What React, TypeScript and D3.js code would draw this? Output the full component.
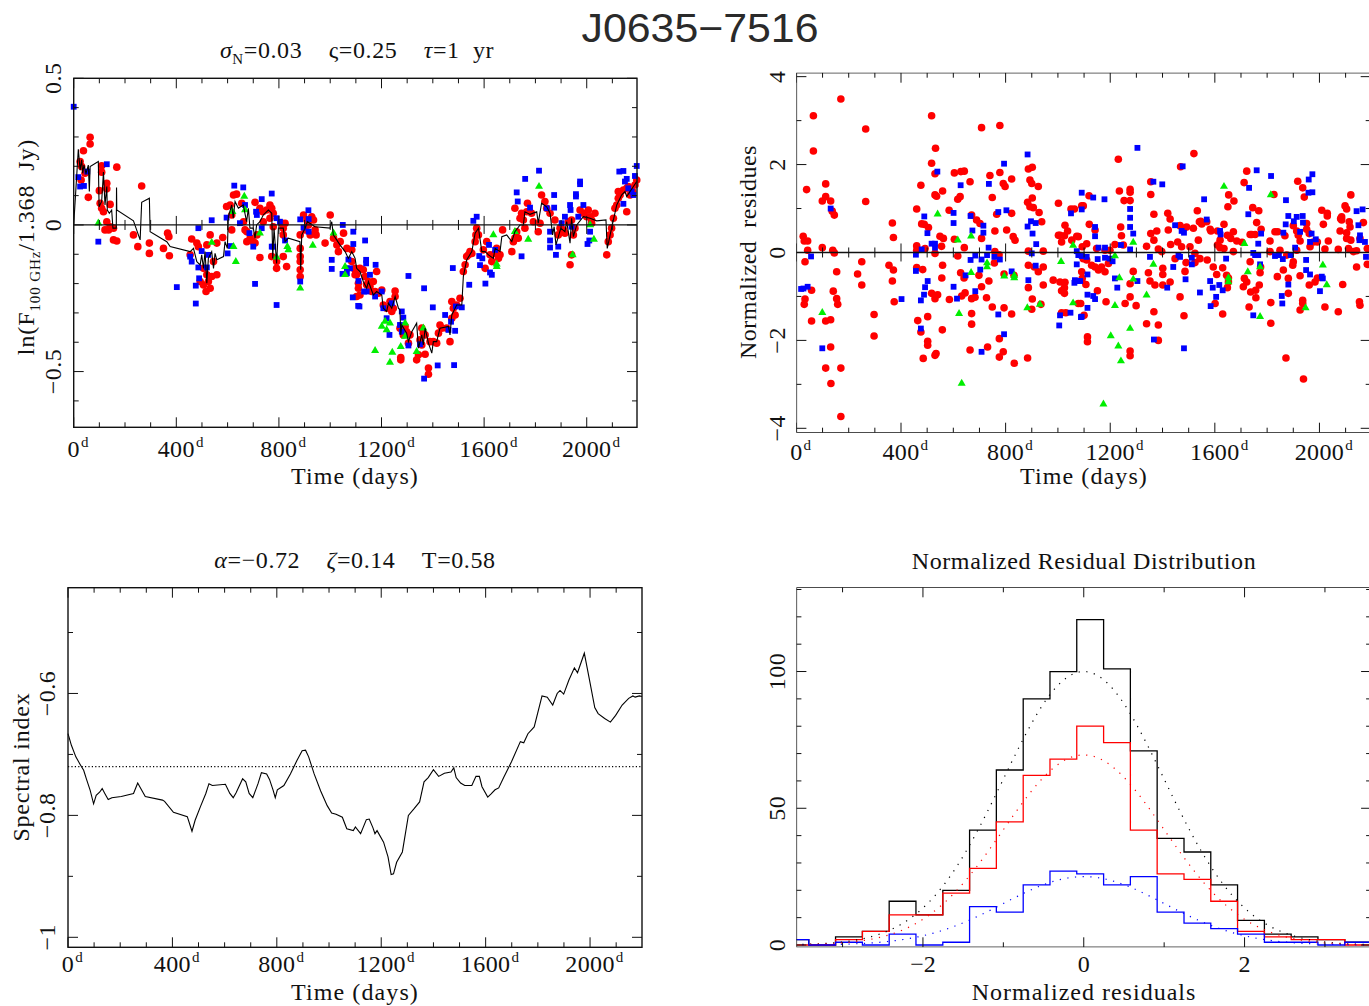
import React from 'react';
import * as d3 from 'd3';

// ---------- Light curve at 100 GHz (day, ln flux ratio) ----------
const fluxRed: [number, number][] = [
  [25,0.216],[31,0.199],[44,0.176],[38,0.253],[29,0.153],[64,0.299],[64,0.276],[57,0.094],[109,0.202],[109,0.18],
  [129,0.142],[129,0.123],[100,0.117],[103,0.074],[109,0.057],[116,0.045],[142,0.07],[168,0.197],[265,0.133],[129,0.011],
  [142,-0.006],[136,-0.017],[122,-0.017],[155,-0.011],[155,-0.051],[168,-0.055],[233,-0.034],[250,-0.074],[295,-0.062],[295,-0.097],
  [350,-0.08],[366,-0.028],[371,-0.04],[373,-0.105],[460,-0.048],[454,-0.102],[480,-0.062],[506,-0.148],[519,-0.17],[506,-0.205],
  [516,-0.227],[532,-0.216],[525,-0.193],[538,-0.176],[558,-0.17],[532,-0.034],[558,-0.062],[581,-0.043],[545,-0.125],[519,-0.068],
  [486,-0.074],[493,-0.193],[596,0.063],[610,0.068],[623,0.102],[635,0.105],[616,0.034],[616,-0.017],[668,-0.017],[655,0.074],
  [662,0.011],[688,-0.045],[700,-0.057],[707,0.077],[726,0.057],[737,0.045],[739,0.011],[752,0.051],[765,0.068],[772,0.057],
  [778,0.04],[765,0.023],[778,-0.006],[811,0.006],[817,-0.011],[817,-0.034],[824,0.006],[791,-0.125],[791,-0.148],[830,-0.142],
  [772,-0.108],[817,-0.108],[726,-0.111],[675,-0.023],[675,-0.057],[714,-0.034],[707,-0.062],[883,-0.08],[883,-0.108],[883,-0.125],
  [883,-0.153],[883,-0.176],[883,-0.034],[896,0.034],[909,0.017],[915,0.0],[928,0.028],[935,0.017],[941,-0.017],[945,-0.034],
  [922,-0.034],[902,-0.017],[980,-0.062],[1000,0.034],[1013,-0.045],[1026,-0.068],[1032,-0.091],[1039,-0.057],[1052,-0.028],[1065,-0.08],
  [1097,-0.148],[1097,-0.17],[1110,-0.199],[1103,-0.244],
  [1084,-0.085],[1084,-0.125],[1097,-0.153],[1103,-0.17],[1116,-0.148],[1129,-0.153],[1136,-0.176],[1142,-0.204],[1149,-0.193],[1155,-0.21],
  [1168,-0.193],[1181,-0.159],[1162,-0.227],[1175,-0.227],[1188,-0.233],[1201,-0.222],[1110,-0.216],[1116,-0.239],[1207,-0.273],[1220,-0.284],
  [1233,-0.261],[1246,-0.284],[1253,-0.225],[1253,-0.244],[1240,-0.295],[1272,-0.352],[1292,-0.346],[1285,-0.375],[1298,-0.364],[1305,-0.403],
  [1311,-0.375],[1275,-0.452],[1275,-0.46],[1350,-0.392],[1357,-0.352],[1363,-0.369],[1370,-0.375],[1357,-0.409],[1370,-0.441],[1383,-0.488],
  [1383,-0.509],[1337,-0.46],[1344,-0.443],[1389,-0.398],[1402,-0.398],[1415,-0.403],[1422,-0.369],[1428,-0.341],[1435,-0.352],[1454,-0.352],
  [1467,-0.398],[1474,-0.261],[1480,-0.284],[1487,-0.307],[1474,-0.318],[1506,-0.25],[1493,-0.273],[1519,-0.159],[1526,-0.136],[1532,-0.108],
  [1539,-0.102],[1545,-0.091],[1552,-0.097],[1565,-0.057],[1568,-0.034],[1571,-0.011],[1578,-0.034],[1597,-0.085],[1610,-0.057],[1623,-0.102],
  [1630,-0.125],[1643,-0.097],[1649,-0.08],[1656,-0.114],[1662,-0.102],[1604,-0.148],[1672,-0.017],[1708,-0.091],[1714,-0.057],[1720,-0.045],
  [1727,-0.023],[1733,-0.045],[1720,0.057],[1740,0.023],[1746,0.04],[1753,0.017],[1759,-0.011],[1766,0.045],[1769,0.074],[1785,0.04],
  [1792,0.011],[1811,-0.023],[1818,0.006],[1824,0.102],[1837,0.08],[1844,0.057],[1857,0.04],[1876,0.017],[1889,-0.034],[1896,-0.011],
  [1909,-0.017],[1915,-0.028],[1928,0.011],[1941,0.017],[1948,-0.034],[1954,-0.011],[1935,-0.136],[1941,-0.102],[1974,0.051],[1987,0.04],
  [2000,0.028],[2006,0.051],[2013,0.028],[2019,0.017],[2032,0.04],[2019,0.006],[2078,-0.102],[2084,-0.057],[2091,-0.034],[2097,-0.011],
  [2104,0.023],[2110,0.057],[2117,0.068],[2123,0.091],[2123,0.114],[2130,0.102],[2143,0.119],[2156,0.125],[2162,0.131],[2156,0.045],
  [2169,0.102],[2179,0.114],[2188,0.136],[2195,0.153],
];

const fluxBlue: [number, number][] = [
  [0,0.403],[18,0.163],[25,0.131],[40,0.133],[53,0.182],[129,0.207],[96,-0.057],[486,-0.011],[538,0.016],[454,-0.108],
  [460,-0.125],[486,-0.145],[499,-0.089],[519,-0.145],[525,-0.102],[489,-0.182],[402,-0.212],[476,-0.207],[476,-0.268],[600,-0.097],
  [613,-0.072],[596,0.025],[626,0.134],[661,0.128],[668,0.068],[648,0.006],[685,-0.028],[700,-0.074],[711,0.045],[733,0.088],
  [772,0.107],[733,-0.011],[714,0.034],[791,0.023],[804,0.011],[772,-0.074],[778,-0.074],[707,-0.201],[791,-0.273],[824,-0.053],
  [883,0.019],[896,-0.009],[915,0.05],[916,0.02],[916,-0.023],[883,-0.193],[1049,0.0],[1090,-0.023],[1090,-0.065],[1006,-0.119],
  [1006,-0.15],[1048,-0.167],[1065,-0.148],[1071,-0.118],[1065,-0.165],[1088,-0.247],[1109,-0.276],
  [1136,-0.053],[1140,-0.119],[1140,-0.131],[1177,-0.136],[1077,-0.148],[1110,-0.191],[1132,-0.227],[1142,-0.227],[1155,-0.17],[1175,-0.244],
  [1201,-0.227],[1114,-0.278],[1207,-0.284],[1220,-0.318],[1240,-0.267],[1279,-0.295],[1285,-0.316],[1272,-0.341],[1279,-0.364],[1231,-0.375],
  [1305,-0.411],[1305,-0.174],[1366,-0.216],[1350,-0.407],[1366,-0.524],[1400,-0.281],[1419,-0.479],[1448,-0.307],[1461,-0.358],[1471,-0.33],
  [1478,-0.147],[1483,-0.478],[1487,-0.361],[1513,-0.281],[1490,-0.278],[1542,-0.204],[1558,0.014],[1571,0.028],[1581,-0.106],[1584,-0.137],
  [1593,-0.114],[1605,-0.2],[1619,-0.068],[1623,-0.162],[1630,-0.17],[1643,-0.085],[1727,0.111],[1731,0.08],[1746,-0.107],[1760,0.157],
  [1779,0.059],[1814,0.185],[1844,0.057],[1857,-0.023],[1857,-0.053],[1857,-0.077],[1873,0.102],[1873,0.059],[1880,-0.102],[1889,-0.074],
  [1902,0.006],[1915,0.028],[1935,0.068],[1937,0.051],[1941,-0.006],[1958,0.105],[1958,0.097],[1974,0.148],[1974,0.139],[1987,0.068],
  [1967,0.028],[2003,-0.065],[2010,-0.053],[2013,-0.023],[2127,0.182],[2143,0.184],[2149,0.148],[2156,0.157],[2162,0.125],[2143,0.072],
  [2175,0.114],[2188,0.167],[2195,0.201],[2182,0.102],
];

const fluxGreen: [number, number][] = [
  [96,0.006],[538,-0.06],[619,0.045],[623,-0.074],[632,-0.125],[665,0.097],[668,0.051],[726,-0.028],[791,-0.11],[833,-0.074],
  [837,-0.085],[883,-0.216],[932,-0.07],[1013,-0.028],[1058,-0.142],[1058,-0.17],[1201,-0.346],[1220,-0.358],[1214,-0.329],[1233,-0.335],
  [1175,-0.429],[1242,-0.435],[1233,-0.469],[1275,-0.415],[1292,-0.335],[1292,-0.38],[1337,-0.432],[1363,-0.352],[1636,-0.034],[1649,-0.142],
  [1649,-0.134],[1720,-0.023],[1772,-0.049],[1814,0.131],[1945,-0.102],[2013,0.0],[2028,-0.049],
];

const modelCurve: [number, number][] = [
  [0,0.0],[18,0.258],[25,0.187],[31,0.222],[35,0.176],[40,0.204],[48,0.176],[57,0.204],[61,0.114],[64,0.199],
  [96,0.216],[99,0.062],[109,0.08],[116,0.18],[122,0.068],[129,0.131],[131,0.051],[139,0.04],[148,0.051],[153,-0.011],
  [166,-0.011],[167,0.128],[168,0.051],[233,0.014],[259,-0.051],[265,0.077],[295,0.091],[298,-0.023],[363,-0.057],[376,-0.074],
  [454,-0.091],[467,-0.08],[480,-0.125],[493,-0.136],[499,-0.102],[506,-0.148],[512,-0.091],[519,-0.199],[525,-0.114],[538,-0.091],
  [545,-0.148],[551,-0.097],[558,-0.119],[584,-0.108],[590,-0.057],[599,-0.08],[603,0.028],[616,0.068],[622,0.023],[629,0.08],
  [642,0.057],[661,0.068],[674,0.011],[681,0.057],[687,-0.011],[700,-0.011],[707,-0.045],[713,0.0],[726,0.011],[739,0.034],
  [759,0.051],[772,0.04],[776,-0.114],[781,-0.011],[791,-0.131],[798,-0.011],[817,-0.011],[824,-0.057],[837,-0.045],[882,-0.057],
  [885,-0.153],[889,-0.034],[902,-0.011],[911,0.011],[941,-0.006],[999,-0.011],[1006,0.011],[1012,-0.034],[1038,-0.068],[1058,-0.091],
  [1071,-0.114],[1084,-0.091],[1097,-0.114],[1103,-0.148],[1116,-0.159],[1129,-0.193],[1142,-0.216],[1149,-0.193],[1168,-0.239],[1181,-0.227],
  [1201,-0.239],[1207,-0.284],[1220,-0.295],[1227,-0.267],[1240,-0.284],[1253,-0.244],[1266,-0.284],[1272,-0.29],[1275,-0.375],[1279,-0.341],
  [1298,-0.369],[1305,-0.398],[1318,-0.364],[1337,-0.335],[1344,-0.42],[1357,-0.375],[1363,-0.409],[1370,-0.352],[1383,-0.403],[1396,-0.437],
  [1402,-0.398],[1415,-0.398],[1428,-0.352],[1461,-0.346],[1467,-0.375],[1474,-0.307],[1493,-0.273],[1513,-0.273],[1519,-0.176],[1532,-0.119],
  [1552,-0.091],[1565,-0.028],[1578,-0.011],[1591,-0.091],[1604,-0.091],[1617,-0.102],[1636,-0.114],[1643,-0.08],[1662,-0.091],[1669,-0.04],
  [1688,-0.034],[1708,-0.057],[1720,-0.023],[1740,0.0],[1753,0.0],[1759,0.045],[1779,0.036],[1805,0.045],[1811,0.006],[1824,0.074],
  [1844,0.062],[1857,0.04],[1867,-0.034],[1873,-0.006],[1880,-0.068],[1899,-0.011],[1915,-0.023],[1922,0.011],[1935,-0.062],[1941,0.023],
  [1948,-0.04],[1961,0.0],[1987,0.028],[2013,0.023],[2039,0.014],[2075,0.017],[2080,-0.08],[2097,-0.011],[2117,0.068],[2136,0.102],
  [2149,0.114],[2156,0.097],[2182,0.131],[2195,0.148],
];

// ---------- Normalized residues (day, sigma) ----------
const resRed: [number, number][] = [
  [170,3.49],[65,3.11],[265,2.81],[65,2.31],[517,3.11],[708,2.84],[778,2.89],[532,2.37],[517,2.03],[530,1.79],
  [39,1.43],[112,1.56],[99,1.17],[112,1.27],[131,1.17],[137,0.94],[145,0.85],[265,1.16],[367,0.67],[371,0.34],
  [476,1.53],[460,0.99],[479,0.65],[489,0.64],[505,0.57],[530,1.31],[536,1.28],[559,1.4],[549,0.37],[562,0.32],
  [584,0.96],[604,1.81],[629,1.84],[642,1.85],[664,1.61],[617,1.21],[626,1.27],[670,0.85],[689,0.74],[702,0.66],
  [740,1.75],[749,1.25],[778,1.82],[791,1.57],[798,1.5],[823,1.67],[766,0.87],[759,0.49],[804,0.51],[823,0.89],
  [829,0.36],[836,0.28],[887,1.9],[902,1.94],[884,1.14],[893,1.65],[900,1.57],[902,1.24],[925,1.5],[928,0.91],
  [938,0.7],[893,1.04],[906,1.02],[1002,1.12],[1027,0.62],[1037,0.49],[1050,0.99],[1063,0.99],[1072,0.37],[1078,0.36],
  [1002,0.39],[1097,1.06],[26,0.37],[30,0.26],[43,0.26],[43,0.05],[99,0.11],[139,0.05],[145,-0.01],[460,0.15],
  [460,0.05],[492,0.09],[530,-0.02],[555,0.14],[604,0.3],[642,0.11],[708,0.32],[759,0.02],[775,-0.05],[887,0.03],
  [944,0.03],[1008,0.39],[1014,0.24],[1025,0.38],[1053,0.28],[1093,0.13],
  [33,-0.21],[250,-0.21],[354,-0.29],[371,-0.4],[154,-0.44],[234,-0.49],[250,-0.74],[367,-0.65],[460,-0.34],[483,-0.39],
  [559,-0.29],[617,-0.08],[628,-0.46],[641,-0.58],[698,-0.52],[736,-0.65],[757,-0.24],[794,-0.49],[832,-0.52],[887,-0.29],
  [910,-0.33],[925,-0.44],[944,-0.33],[944,-0.74],[887,-0.8],[982,-0.63],[1008,-0.67],[1025,-0.8],[1027,-0.68],[1078,-1.16],
  [1093,-0.59],[33,-1.06],[30,-1.18],[58,-0.86],[141,-0.88],[154,-1.05],[158,-1.18],[374,-1.12],[297,-1.41],[297,-1.9],
  [58,-1.56],[112,-1.56],[131,-1.53],[464,-1.55],[476,-1.81],[502,-1.46],[502,-2.02],[502,-2.11],[485,-2.41],[530,-2.34],
  [534,-2.3],[558,-1.76],[517,-0.93],[530,-1.05],[540,-0.96],[556,-0.58],[585,-1.07],[632,-0.99],[645,-0.92],[670,-1.05],
  [683,-1.02],[708,-0.78],[727,-1.03],[670,-1.39],[670,-1.63],[664,-2.22],[731,-2.15],[776,-1.96],[776,-2.38],[791,-2.26],
  [794,-1.26],[823,-1.4],[833,-2.52],[884,-2.4],[902,-1.06],[900,-1.29],[935,-1.18],[749,-1.24],[1014,-0.87],[1014,-1.37],
  [1030,-1.37],[112,-2.63],[132,-2.98],[170,-2.63],[131,-2.15],[170,-3.73],[1025,-0.93],
  [1231,2.12],[1520,2.25],[1469,1.95],[1235,1.4],[1276,1.44],[1276,1.37],[1276,1.18],[1253,1.18],[1355,1.61],[1355,1.32],
  [1367,0.87],[1420,0.89],[1429,0.76],[1533,0.95],[1541,0.7],[1550,0.65],[1582,0.53],[1635,0.64],[1650,1.04],[1653,1.31],
  [1673,1.17],[1712,1.59],[1722,1.85],[1745,1.02],[1768,0.95],[1760,0.68],[1826,1.32],[1917,1.62],[1936,1.47],[1942,1.26],
  [1951,0.53],[2009,0.96],[2030,0.89],[2030,0.83],[2120,1.31],[2098,1.06],[2104,0.99],[2085,0.81],[2085,0.74],[2114,0.7],
  [2117,0.58],[2168,0.68],[1119,1.29],[1091,1.06],[1120,0.64],[1142,0.51],[1240,0.58],[1243,0.38],[1367,0.28],[1355,0.43],
  [1378,0.49],[1422,0.51],[1467,0.61],[1482,0.55],[1492,0.58],[1518,0.55],[1537,0.28],[1546,0.71],[1569,0.7],[1585,0.49],
  [1610,0.49],[1620,0.28],[1648,0.39],[1661,0.32],[1671,0.47],[1684,0.26],[1704,0.23],[1741,0.41],[1754,0.41],[1777,0.53],
  [1811,0.26],[1830,0.47],[1840,0.47],[1868,0.38],[1900,0.61],[1913,0.49],[1919,0.39],[1926,0.26],[1951,0.66],[1961,0.43],
  [1977,0.24],[1992,0.24],[2015,0.64],[2034,0.26],[2079,0.49],[2081,0.77],[2104,0.45],[2104,0.32],[2120,0.28],[2142,0.04],
  [2183,0.09],[2155,0.32],[1110,0.2],[1148,0.09],[1180,0.05],[1199,0.05],[1218,0.18],[1250,0.17],[1339,0.14],[1384,0.08],
  [1397,0.02],[1431,0.18],[1458,0.24],[1473,0.13],[1505,0.13],[1524,-0.02],[1610,0.17],[1620,0.11],[1635,0.09],[1671,0.02],
  [1735,0.41],[1811,0.02],[1849,0.05],[1875,-0.06],[1913,0.05],[1964,0.13],[2021,0.08],[2072,0.07],[2111,0.09],[2130,0.02],
  [1097,-0.14],[1110,-0.17],[1129,-0.29],[1142,-0.33],[1155,-0.4],[1167,-0.33],[1180,-0.44],[1193,-0.25],[1091,-0.44],[1107,-0.73],
  [1151,-0.87],[1184,-1.12],[1100,-1.43],[1113,-1.92],[1113,-2.03],[1257,-1.16],[1276,-1.01],[1276,-0.71],[1288,-0.43],[1299,-1.21],
  [1339,-1.62],[1367,-1.35],[1384,-1.65],[1384,-2.0],[1276,-2.24],[1276,-2.35],[1346,-0.46],[1352,-0.65],[1371,-0.74],[1401,-0.36],
  [1401,-0.5],[1401,-0.74],[1429,-0.67],[1448,-0.14],[1467,-1.01],[1482,-1.44],[1486,-0.43],[1490,-0.23],[1524,-0.23],[1543,-0.14],
  [1571,-0.17],[1594,-0.33],[1601,-1.16],[1607,-0.5],[1630,-0.35],[1630,-1.4],[1645,-0.52],[1652,-0.67],[1648,-0.8],[1652,-0.58],
  [1709,-0.78],[1713,-0.59],[1722,-0.67],[1731,-1.24],[1737,-0.9],[1756,-0.86],[1757,-1.03],[1770,-0.74],[1773,-0.46],[1775,-0.33],
  [1735,-0.21],[1814,-1.14],[1814,-1.61],[1839,-0.55],[1862,-0.4],[1872,-2.4],[1881,-0.93],[1881,-0.59],[1898,-0.29],[1900,-0.21],
  [1926,-0.53],[1936,-1.09],[1936,-1.16],[1939,-2.88],[1926,-1.31],[1961,-0.74],[1983,-0.67],[1992,-0.58],[2021,-1.24],[2072,-1.35],
  [2089,-0.73],[2142,-0.33],[2153,-1.12],[2155,-1.2],[2183,-0.27],[1087,-1.16],
];

const resBlue: [number, number][] = [
  [56,-0.09],[18,-0.83],[27,-0.82],[43,-0.78],[99,-2.18],[131,1.0],[402,-1.06],[457,-0.05],[457,-0.42],[479,0.07],
  [489,0.82],[501,0.44],[502,-0.65],[492,-0.79],[488,-0.96],[476,-1.09],[476,-1.73],[517,0.2],[530,0.2],[530,0.11],
  [539,1.84],[601,0.9],[601,0.67],[601,-0.78],[614,-1.05],[628,1.53],[647,-0.52],[666,-0.17],[666,0.83],[673,0.5],
  [684,-0.07],[684,-0.88],[703,-0.39],[708,-0.16],[708,-2.26],[715,0.61],[715,0.45],[729,-0.06],[735,0.11],[736,1.56],
  [757,-0.1],[772,0.92],[778,-0.16],[772,-1.41],[794,2.02],[794,-1.86],[803,0.96],[823,-0.43],[884,2.23],[884,0.59],
  [887,-0.63],[897,0.71],[903,0.43],[915,0.67],[917,0.19],[900,-0.02],[915,-0.3],[1008,-1.43],[1005,-1.66],[1048,-1.37],
  [1050,0.89],[1063,-0.69],[1072,-0.27],[1072,0.03],[1065,-0.63],[1075,-0.65],[1091,1.36],[1091,0.98],[1088,-1.47],[1078,-0.06],
  [1091,-0.08],
  [1304,2.38],[1477,1.96],[1365,1.61],[1399,1.55],[1559,1.21],[1760,1.87],[1815,1.74],[1731,1.47],[1872,1.19],[1959,1.66],
  [1973,1.78],[1958,1.36],[1973,1.37],[1135,1.25],[1178,1.21],[1276,0.99],[1276,0.79],[1276,0.58],[1288,0.43],[1448,0.62],
  [1473,0.49],[1482,0.45],[1569,0.75],[1620,0.49],[1622,0.41],[1728,0.87],[1777,0.43],[1766,0.2],[1862,0.45],[1871,0.64],
  [1881,0.83],[1902,0.71],[1913,0.81],[1926,0.47],[1936,0.83],[1937,0.68],[1907,0.11],[1964,0.24],[1970,0.43],[1986,0.3],
  [2142,0.94],[2165,0.98],[2149,0.62],[2155,0.39],[2153,0.28],[2174,0.24],[1142,0.58],[1142,0.37],[1155,0.11],[1180,0.11],
  [1110,-0.1],[1152,-0.15],[1180,-0.12],[1199,-0.14],[1209,-0.2],[1241,0.17],[1276,0.07],[1352,-0.1],[1441,-0.33],[1461,-0.06],
  [1467,-0.1],[1488,-0.61],[1512,-0.12],[1512,-0.27],[1643,-0.14],[1747,-0.01],[1754,-0.06],[1766,-0.06],[1773,-0.27],[1830,-0.08],
  [1845,-0.06],[1860,-0.15],[1890,-0.06],[1949,-0.17],[1949,-0.4],[1113,-0.5],[1085,-0.65],[1113,-0.96],[1135,-0.99],[1142,-1.06],
  [1113,-1.26],[1091,-1.46],[1218,-0.59],[1227,-0.8],[1304,-0.65],[1418,-0.8],[1543,-0.91],[1582,-0.65],[1592,-0.8],[1605,-1.01],
  [1584,-1.22],[1617,-0.74],[1630,-0.86],[1747,-1.43],[1856,-0.99],[1858,-1.16],[1881,-0.73],[1964,-0.5],[2009,-0.55],[2013,-0.59],
  [2002,-0.88],[1367,-1.98],[1482,-2.18],[2178,-0.1],
];

const resGreen: [number, number][] = [
  [99,-1.37],[540,0.87],[617,0.28],[668,0.37],[622,-1.39],[668,-0.46],[729,-0.24],[729,-0.33],[795,-0.54],[833,-0.52],
  [833,-0.58],[883,-1.26],[931,-1.18],[632,-2.98],[1012,-0.21],[1058,0.16],[1058,-1.15],
  [1174,-3.45],[1202,-1.9],[1231,-2.13],[1241,-2.47],[1276,-1.73],[1218,-1.21],[1235,-0.58],[1218,-0.08],[1288,0.23],
  [1288,-0.61],[1339,-0.97],[1365,-0.27],[1635,1.5],[1652,-0.58],[1652,-0.67],[1713,0.2],[1726,-0.44],[1773,-0.33],[1773,-1.46],
  [1814,1.31],[1947,-1.26],[2013,-0.29],[2028,-0.74],
];

// ---------- Spectral index (day, alpha) ----------
const spectralIndex: [number, number][] = [
  [0,-0.666],[13,-0.685],[30,-0.704],[46,-0.716],[60,-0.726],[71,-0.741],[85,-0.759],[98,-0.781],[108,-0.767],[121,-0.762],
  [131,-0.756],[141,-0.764],[154,-0.774],[168,-0.771],[204,-0.769],[251,-0.764],[267,-0.747],[296,-0.769],[362,-0.775],[370,-0.777],
  [404,-0.795],[457,-0.802],[475,-0.826],[487,-0.808],[507,-0.786],[528,-0.764],[540,-0.748],[553,-0.751],[603,-0.749],[620,-0.764],
  [633,-0.771],[644,-0.763],[669,-0.74],[681,-0.745],[694,-0.764],[708,-0.771],[728,-0.748],[741,-0.73],[761,-0.732],[772,-0.741],
  [786,-0.759],[794,-0.771],[802,-0.758],[827,-0.751],[852,-0.732],[877,-0.71],[897,-0.694],[910,-0.693],[922,-0.704],[943,-0.732],
  [968,-0.76],[993,-0.784],[1010,-0.796],[1027,-0.798],[1051,-0.803],[1068,-0.822],[1093,-0.825],[1101,-0.819],[1121,-0.83],[1143,-0.807],
  [1154,-0.806],[1168,-0.82],[1176,-0.83],[1184,-0.825],[1209,-0.844],[1226,-0.868],[1238,-0.897],[1247,-0.896],[1259,-0.877],[1281,-0.86],
  [1304,-0.8],[1326,-0.789],[1347,-0.778],[1364,-0.745],[1380,-0.738],[1400,-0.725],[1420,-0.736],[1442,-0.731],[1467,-0.729],[1478,-0.722],
  [1487,-0.738],[1504,-0.747],[1520,-0.751],[1547,-0.751],[1563,-0.736],[1576,-0.736],[1586,-0.753],[1608,-0.77],[1620,-0.765],[1636,-0.758],
  [1650,-0.755],[1669,-0.738],[1699,-0.712],[1733,-0.679],[1746,-0.681],[1762,-0.666],[1786,-0.655],[1816,-0.604],[1836,-0.606],[1857,-0.619],
  [1874,-0.6],[1885,-0.595],[1899,-0.601],[1919,-0.578],[1940,-0.558],[1952,-0.566],[1978,-0.534],[1998,-0.578],[2018,-0.623],[2031,-0.633],
  [2056,-0.641],[2078,-0.647],[2098,-0.636],[2123,-0.619],[2148,-0.608],[2164,-0.604],[2173,-0.606],[2189,-0.604],[2199,-0.605],
];
const meanSpectralIndex = -0.72;

// ---------- Residual histogram ----------
const binEdges = [-3.574,-3.42,-3.087,-2.753,-2.42,-2.087,-1.753,-1.42,-1.087,-0.753,-0.42,-0.087,0.247,0.58,0.913,1.247,1.58,1.913,2.247,2.58,2.913,3.247,3.574];
const countsAll =  [2,0,3,5,16,11,20,42,64,90,100,119,101,71,39,34,22,9,4,3,2,1];
const countsRed =  [0,0,2,5,11,11,19,28,45,62,68,80,74,42,26,24,16,5,3,2,2,0];
const countsBlue = [2,0,1,0,4,0,1,14,12,22,27,26,22,25,12,8,6,4,1,1,0,1];
const gaussPeakAll = 100;
const gaussPeakRed = 69.5;
const gaussPeakBlue = 25;
const gaussSigma = 1;

// ---------- Tick labels ----------
const dayTicks = [0, 400, 800, 1200, 1600, 2000];
const fluxTicks = [0.5, 0, -0.5];
const residueTicks = [4, 2, 0, -2, -4];
const alphaTicks = [-0.6, -0.8, -1];
const countTicks = [0, 50, 100];
const sigmaTicks = [-2, 0, 2];

const SERIF = "'Liberation Serif', 'DejaVu Serif', serif";
const RED = '#ff0000';
const BLUE = '#0000ff';
const GREEN = '#00ee00';
const INK = '#111';

const minus = (v: number) => String(v).replace('-', '\u2212');
const stepRange = (a: number, b: number, s: number) => d3.range(Math.round(a / s), Math.round(b / s) + 1).map(k => +(k * s).toFixed(6));

type Scale = d3.ScaleLinear<number, number>;

function Frame({ xs, ys, xMinor, xMajor, yMinor, yMajor }: {
  xs: Scale; ys: Scale; xMinor: number[]; xMajor: number[]; yMinor: number[]; yMajor: number[];
}) {
  const [x0, x1] = xs.range();
  const [y1, y0] = ys.range();
  const isMajor = (arr: number[], v: number) => arr.some(m => Math.abs(m - v) < 1e-6);
  const lines: JSX.Element[] = [];
  xMinor.forEach((v, i) => {
    const x = xs(v);
    const L = isMajor(xMajor, v) ? 10 : 5;
    lines.push(<line key={'xb' + i} x1={x} x2={x} y1={y1} y2={y1 - L} />);
    lines.push(<line key={'xt' + i} x1={x} x2={x} y1={y0} y2={y0 + L} />);
  });
  yMinor.forEach((v, i) => {
    const y = ys(v);
    const L = isMajor(yMajor, v) ? 10 : 5;
    lines.push(<line key={'yl' + i} x1={x0} x2={x0 + L} y1={y} y2={y} />);
    lines.push(<line key={'yr' + i} x1={x1} x2={x1 - L} y1={y} y2={y} />);
  });
  return (
    <g stroke={INK} fill="none">
      <g strokeWidth={1}>{lines}</g>
      <rect x={x0} y={y0} width={x1 - x0} height={y1 - y0} strokeWidth={1.4} />
    </g>
  );
}

function ZeroAxis({ xs, ys, minor, major }: { xs: Scale; ys: Scale; minor: number[]; major: number[] }) {
  const y = ys(0);
  const [x0, x1] = xs.range();
  return (
    <g stroke={INK} strokeWidth={1}>
      <line x1={x0} x2={x1} y1={y} y2={y} strokeWidth={1.3} />
      {minor.map((v, i) => {
        const L = major.includes(v) ? 9 : 5;
        return <line key={i} x1={xs(v)} x2={xs(v)} y1={y - L} y2={y + L} />;
      })}
    </g>
  );
}

function DayLabels({ xs, y }: { xs: Scale; y: number }) {
  return (
    <g fontFamily={SERIF} fill={INK}>
      {dayTicks.map(d => {
        const s = String(d);
        const half = s.length * 6.2;
        return (
          <g key={d}>
            <text x={xs(d)} y={y} fontSize={24} textAnchor="middle" letterSpacing={0.4}>{s}</text>
            <text x={xs(d) + half + 1} y={y - 10} fontSize={15}>d</text>
          </g>
        );
      })}
    </g>
  );
}

function YLabels({ ys, x, ticks, fmt }: { ys: Scale; x: number; ticks: number[]; fmt: (v: number) => string }) {
  return (
    <g fontFamily={SERIF} fill={INK} fontSize={24}>
      {ticks.map(v => (
        <text key={v} transform={`translate(${x},${ys(v)}) rotate(-90)`} textAnchor="middle" letterSpacing={0.5}>{fmt(v)}</text>
      ))}
    </g>
  );
}

function Circles({ data, xs, ys }: { data: [number, number][]; xs: Scale; ys: Scale }) {
  return <g fill={RED}>{data.map((d, i) => <circle key={i} cx={xs(d[0])} cy={ys(d[1])} r={3.8} />)}</g>;
}
function Squares({ data, xs, ys }: { data: [number, number][]; xs: Scale; ys: Scale }) {
  const s = 5.8;
  return <g fill={BLUE}>{data.map((d, i) => <rect key={i} x={xs(d[0]) - s / 2} y={ys(d[1]) - s / 2} width={s} height={s} />)}</g>;
}
function Triangles({ data, xs, ys }: { data: [number, number][]; xs: Scale; ys: Scale }) {
  const tri = d3.symbol(d3.symbolTriangle, 28)() as string;
  return <g fill={GREEN}>{data.map((d, i) => <path key={i} d={tri} transform={`translate(${xs(d[0])},${ys(d[1])})`} />)}</g>;
}

const labelStyle = { whiteSpace: 'pre' as const };

export default function App() {
  // panel geometry via scales
  const xFlux = d3.scaleLinear().domain([0, 2196]).range([73.7, 637]);
  const yFlux = d3.scaleLinear().domain([-0.69, 0.5]).range([427.3, 78.3]);
  const xRes = d3.scaleLinear().domain([0, 2196]).range([796.4, 1370.7]);
  const yRes = d3.scaleLinear().domain([-4.1, 4.09]).range([432.7, 72.7]);
  const xAlpha = d3.scaleLinear().domain([0, 2199]).range([68, 642]);
  const yAlpha = d3.scaleLinear().domain([-1.0164, -0.4265]).range([947.3, 587.7]);
  const xHist = d3.scaleLinear().domain([-3.574, 3.574]).range([796.4, 1371.1]);
  const yHist = d3.scaleLinear().domain([-0.84, 130.8]).range([947.3, 587.3]);

  const dayMinor = stepRange(0, 2100, 100);
  const dayMajor = dayTicks;

  const modelLine = d3.line<[number, number]>().x(d => xFlux(d[0])).y(d => yFlux(d[1]))(modelCurve) as string;
  const alphaLine = d3.line<[number, number]>().x(d => xAlpha(d[0])).y(d => yAlpha(d[1]))(spectralIndex) as string;

  const histPath = (counts: number[]) => {
    const pts: [number, number][] = counts.map((c, i) => [binEdges[i], c]);
    pts.push([binEdges[binEdges.length - 1], counts[counts.length - 1]]);
    return d3.line<[number, number]>().x(d => xHist(d[0])).y(d => yHist(d[1])).curve(d3.curveStepAfter)(pts) as string;
  };
  const gaussGrid = d3.range(-3.5, 3.5001, 0.02);
  const gaussPath = (peak: number) =>
    d3.line<number>().x(v => xHist(v)).y(v => yHist(peak * Math.exp(-(v * v) / (2 * gaussSigma * gaussSigma))))(gaussGrid) as string;

  return (
    <svg width={1369} height={1006} viewBox="0 0 1369 1006" style={{ position: 'absolute', left: 0, top: 0, background: '#fff' }}>
      <rect x={0} y={0} width={1369} height={1006} fill="#fff" />
      <defs>
        <clipPath id="clipRes"><rect x={796.4} y={72.7} width={574.3} height={360} /></clipPath>
        <clipPath id="clipHist"><rect x={796.4} y={587.3} width={574.7} height={360} /></clipPath>
      </defs>

      {/* source name */}
      <text x={700} y={42} textAnchor="middle" fontFamily="'Liberation Sans', 'DejaVu Sans', sans-serif" fontSize={40}
        fill="#2a2a2a" textLength={237} lengthAdjust="spacingAndGlyphs">J0635{'\u2212'}7516</text>

      {/* ---- top left: light curve ---- */}
      <text x={357} y={58} textAnchor="middle" fontFamily={SERIF} fontSize={24} fill={INK} style={labelStyle} letterSpacing={0.6}>
        <tspan fontStyle="italic">σ</tspan><tspan fontSize={15} dy={6}>N</tspan><tspan dy={-6}>=0.03    ς=0.25    </tspan>
        <tspan fontStyle="italic">τ</tspan><tspan>=1  yr</tspan>
      </text>
      <g>
        <Circles data={fluxRed} xs={xFlux} ys={yFlux} />
        <Squares data={fluxBlue} xs={xFlux} ys={yFlux} />
        <Triangles data={fluxGreen} xs={xFlux} ys={yFlux} />
        <path d={modelLine} fill="none" stroke="#000" strokeWidth={1.1} />
      </g>
      <ZeroAxis xs={xFlux} ys={yFlux} minor={dayMinor} major={dayMajor} />
      <Frame xs={xFlux} ys={yFlux} xMinor={dayMinor} xMajor={dayMajor} yMinor={stepRange(-0.6, 0.5, 0.1)} yMajor={fluxTicks} />
      <YLabels ys={yFlux} x={61} ticks={fluxTicks} fmt={v => minus(v)} />
      <DayLabels xs={xFlux} y={457} />
      <text x={355} y={484} textAnchor="middle" fontFamily={SERIF} fontSize={24} fill={INK} letterSpacing={1.1}>Time (days)</text>
      <text transform="translate(34,247) rotate(-90)" textAnchor="middle" fontFamily={SERIF} fontSize={24} fill={INK} style={labelStyle} letterSpacing={0.9}>
        ln(F<tspan fontSize={15} dy={6}>100 GHz</tspan><tspan dy={-6}>/1.368  Jy)</tspan>
      </text>

      {/* ---- top right: normalized residues ---- */}
      <g clipPath="url(#clipRes)">
        <Circles data={resRed} xs={xRes} ys={yRes} />
        <Squares data={resBlue} xs={xRes} ys={yRes} />
        <Triangles data={resGreen} xs={xRes} ys={yRes} />
        <ZeroAxis xs={xRes} ys={yRes} minor={dayMinor} major={dayMajor} />
        <Frame xs={xRes} ys={yRes} xMinor={dayMinor} xMajor={dayMajor} yMinor={stepRange(-4, 4, 1)} yMajor={residueTicks} />
      </g>
      <YLabels ys={yRes} x={785} ticks={residueTicks} fmt={v => minus(v)} />
      <DayLabels xs={xRes} y={460} />
      <text x={1084} y={484} textAnchor="middle" fontFamily={SERIF} fontSize={24} fill={INK} letterSpacing={1.1}>Time (days)</text>
      <text transform="translate(756,252) rotate(-90)" textAnchor="middle" fontFamily={SERIF} fontSize={24} fill={INK} style={labelStyle} letterSpacing={0.5}>
        Normalized  residues
      </text>

      {/* ---- bottom left: spectral index ---- */}
      <text x={355} y={568} textAnchor="middle" fontFamily={SERIF} fontSize={24} fill={INK} style={labelStyle} letterSpacing={0.6}>
        <tspan fontStyle="italic">α</tspan><tspan>={minus(meanSpectralIndex)}    </tspan><tspan fontStyle="italic">ζ</tspan><tspan>=0.14    T=0.58</tspan>
      </text>
      <line x1={xAlpha(0)} x2={xAlpha(2199)} y1={yAlpha(meanSpectralIndex)} y2={yAlpha(meanSpectralIndex)} stroke="#000" strokeWidth={1.1} strokeDasharray="1.2 2.2" />
      <path d={alphaLine} fill="none" stroke="#000" strokeWidth={1.1} />
      <Frame xs={xAlpha} ys={yAlpha} xMinor={dayMinor} xMajor={dayMajor} yMinor={stepRange(-1, -0.5, 0.1)} yMajor={alphaTicks} />
      <YLabels ys={yAlpha} x={55} ticks={alphaTicks} fmt={v => minus(v)} />
      <DayLabels xs={xAlpha} y={972} />
      <text x={355} y={1000} textAnchor="middle" fontFamily={SERIF} fontSize={24} fill={INK} letterSpacing={1.1}>Time (days)</text>
      <text transform="translate(29,767) rotate(-90)" textAnchor="middle" fontFamily={SERIF} fontSize={24} fill={INK} letterSpacing={0.8}>Spectral index</text>

      {/* ---- bottom right: residual distribution ---- */}
      <text x={1084} y={569} textAnchor="middle" fontFamily={SERIF} fontSize={24} fill={INK} letterSpacing={0.6}>Normalized Residual Distribution</text>
      <g clipPath="url(#clipHist)">
        <path d={histPath(countsAll)} fill="none" stroke="#000" strokeWidth={1.3} />
        <path d={histPath(countsRed)} fill="none" stroke={RED} strokeWidth={1.3} />
        <path d={histPath(countsBlue)} fill="none" stroke={BLUE} strokeWidth={1.3} />
        <path d={gaussPath(gaussPeakAll)} fill="none" stroke="#000" strokeWidth={1.2} strokeDasharray="1.2 6.5" />
        <path d={gaussPath(gaussPeakRed)} fill="none" stroke={RED} strokeWidth={1.2} strokeDasharray="1.2 6.5" />
        <path d={gaussPath(gaussPeakBlue)} fill="none" stroke={BLUE} strokeWidth={1.2} strokeDasharray="1.2 6.5" />
        <Frame xs={xHist} ys={yHist} xMinor={stepRange(-3, 3, 1)} xMajor={sigmaTicks} yMinor={stepRange(0, 130, 10)} yMajor={countTicks} />
      </g>
      <YLabels ys={yHist} x={785} ticks={countTicks} fmt={v => String(v)} />
      <g fontFamily={SERIF} fontSize={24} fill={INK}>
        {sigmaTicks.map(v => <text key={v} x={xHist(v)} y={972} textAnchor="middle">{minus(v)}</text>)}
      </g>
      <text x={1084} y={1000} textAnchor="middle" fontFamily={SERIF} fontSize={24} fill={INK} letterSpacing={1}>Normalized residuals</text>
    </svg>
  );
}
